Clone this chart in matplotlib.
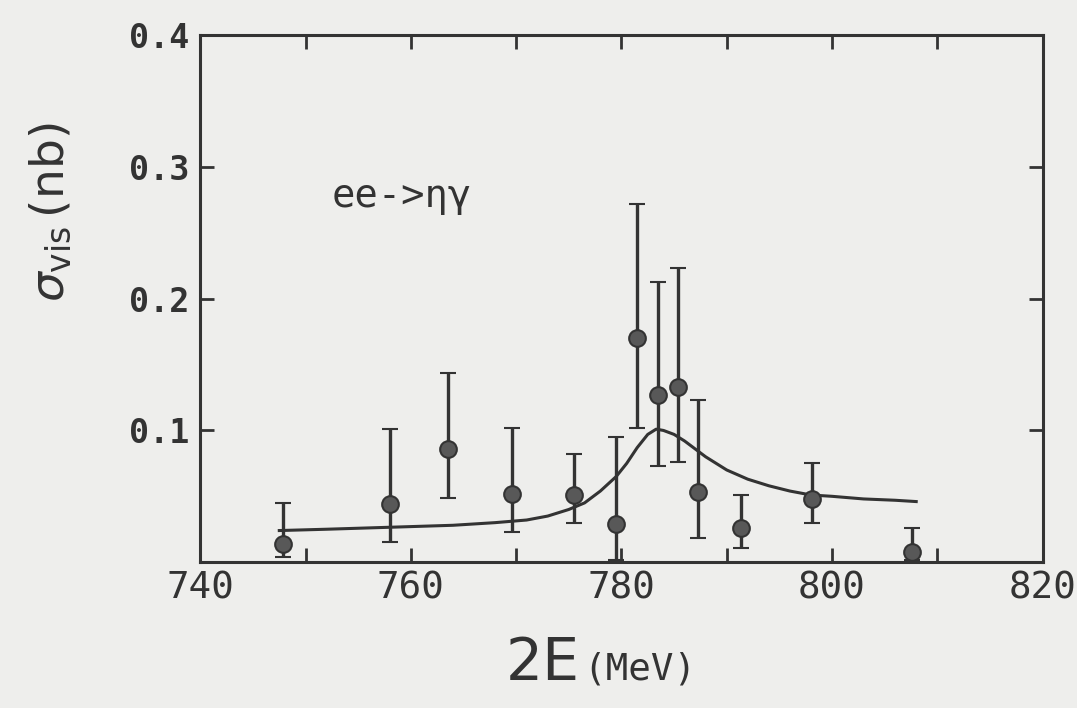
import numpy as np
import matplotlib.pyplot as plt

# ---- data ----
energy = [747.9, 758.0, 763.5, 769.6, 775.5, 779.5, 781.5, 783.5, 785.4, 787.3, 791.4, 798.1, 807.6]
sigma = [0.014, 0.044, 0.086, 0.052, 0.051, 0.029, 0.170, 0.127, 0.133, 0.053, 0.026, 0.048, 0.008]
err_up = [0.031, 0.057, 0.058, 0.050, 0.031, 0.066, 0.102, 0.086, 0.090, 0.070, 0.025, 0.027, 0.018]
err_dn = [0.010, 0.029, 0.037, 0.029, 0.021, 0.027, 0.068, 0.054, 0.057, 0.035, 0.015, 0.018, 0.006]

fit_x = [747.5, 752, 756, 760, 764, 768, 771, 773, 775, 776.5, 778, 779.5, 780.5, 781.5,
         782.5, 783.3, 784, 785, 786, 787, 788, 789, 790, 792, 794, 796, 798, 800, 803, 806, 808]
fit_y = [0.024, 0.025, 0.026, 0.027, 0.028, 0.030, 0.032, 0.035, 0.040, 0.045, 0.054, 0.065,
         0.075, 0.087, 0.097, 0.101, 0.100, 0.097, 0.092, 0.086, 0.080, 0.075, 0.070, 0.063,
         0.058, 0.054, 0.051, 0.050, 0.048, 0.047, 0.046]

x_ticks = [740, 750, 760, 770, 780, 790, 800, 810, 820]
y_ticks = [0.1, 0.2, 0.3, 0.4]

INK = "#333333"
PAPER = "#eeeeec"

fig = plt.figure(figsize=(10.77, 7.08), dpi=100, facecolor=PAPER)
ax = fig.add_axes([0.186, 0.206, 0.782, 0.744], facecolor=PAPER)

ax.plot(fit_x, fit_y, color=INK, lw=2.2)
ax.errorbar(energy, sigma, yerr=[err_dn, err_up], fmt="o", color=INK, ms=12,
            mfc="#585858", mec=INK, mew=1.5, ecolor=INK, elinewidth=2.4, capsize=6, capthick=2.4)

ax.set_xlim(740, 820)
ax.set_ylim(0, 0.4)
ax.set_xticks(x_ticks)
ax.set_xticklabels([str(t) if t % 20 == 0 else "" for t in x_ticks])
ax.set_yticks(y_ticks)
ax.set_yticklabels(["0.1", "0.2", "0.3", "0.4"])
ax.tick_params(direction="in", length=10, width=2, colors=INK, top=True, right=True, pad=8)
ax.tick_params(axis="x", labelsize=27, pad=6)
ax.tick_params(axis="y", labelsize=24, pad=8)
for lab in ax.get_xticklabels() + ax.get_yticklabels():
    lab.set_family("DejaVu Sans Mono")
for lab in ax.get_yticklabels():
    lab.set_fontweight("bold")
for s in ax.spines.values():
    s.set_linewidth(2.2)
    s.set_color(INK)

ax.text(752.5, 0.278, "ee->ηγ", fontsize=28, color=INK, family="DejaVu Sans Mono", va="center")

fig.text(0.047, 0.70, r"$\sigma_{\mathrm{vis}}\,$(nb)", fontsize=34, color=INK, rotation=90,
         va="center", ha="center")
fig.text(0.538, 0.04, "2E", fontsize=42, color=INK, ha="right", va="baseline")
fig.text(0.542, 0.04, "(MeV)", fontsize=27, color=INK, ha="left", va="baseline",
         family="DejaVu Sans Mono")

fig.savefig("out.png", dpi=100, facecolor=PAPER)
